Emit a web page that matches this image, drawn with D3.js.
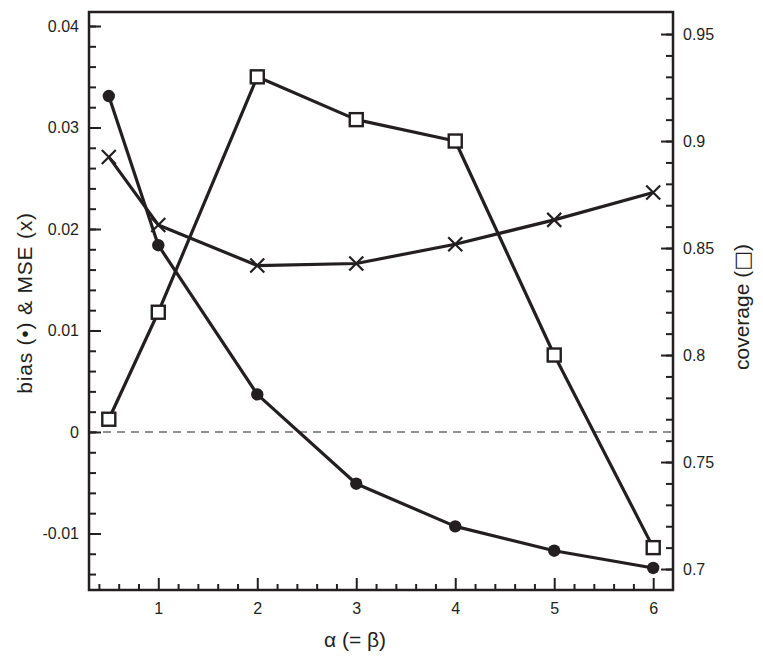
<!DOCTYPE html>
<html>
<head>
<meta charset="utf-8">
<script src="https://cdn.jsdelivr.net/npm/d3@7"></script>
<style>
  body { margin: 0; background: #fff; }
  svg text { font-family: "Liberation Sans", Arial, sans-serif; fill: #231f20; }
</style>
</head>
<body>
<div id="chart"></div>
<script>
// values
const alphas = [0.5, 1, 2, 3, 4, 5, 6];
const bias = [0.0331, 0.0184, 0.0037, -0.0051, -0.0093, -0.0117, -0.0134];
const mse = [0.0271, 0.0204, 0.0164, 0.0166, 0.0185, 0.0209, 0.0236];
const coverage = [0.77, 0.82, 0.93, 0.91, 0.9, 0.8, 0.71];

const xTicks = [1, 2, 3, 4, 5, 6];
const leftTicks = [-0.01, 0, 0.01, 0.02, 0.03, 0.04];
const leftLabels = ["-0.01", "0", "0.01", "0.02", "0.03", "0.04"];
const rightTicks = [0.7, 0.75, 0.8, 0.85, 0.9, 0.95];
const rightLabels = ["0.7", "0.75", "0.8", "0.85", "0.9", "0.95"];

// svg dimensions and plot box
const W = 763;
const H = 661;
const boxL = 89;
const boxR = 673;
const boxT = 12;
const boxB = 590;
const ink = "#231f20";

const svg = d3
  .select("#chart")
  .append("svg")
  .attr("width", W)
  .attr("height", H);

// scales
const x = d3.scaleLinear().domain([0.3, 6.2]).range([boxL, boxR]);
const yL = d3.scaleLinear().domain([-0.01557, 0.04138]).range([boxB, boxT]);
const yR = d3.scaleLinear().domain([0.6902, 0.9603]).range([boxB, boxT]);

// minor ticks (positions only)
const xMinor = d3.range(0.4, 6.01, 0.2).filter((v) => Math.abs(v - Math.round(v)) > 0.01);
const yLMinor = d3.range(-0.014, 0.0401, 0.002);
const yRMinor = d3.range(0.7, 0.951, 0.01);

function styleAxis(g) {
  g.select(".domain").remove();
  g.selectAll("line").attr("stroke", ink).attr("stroke-width", 2);
  g.selectAll("text")
    .style("font-size", "16px")
    .style("fill", ink);
}

// x axis (ticks inward)
svg
  .append("g")
  .attr("transform", `translate(0,${boxB})`)
  .call(d3.axisBottom(x).tickValues(xMinor).tickSize(-6).tickSizeOuter(0).tickFormat(""))
  .call(styleAxis);
svg
  .append("g")
  .attr("transform", `translate(0,${boxB})`)
  .call(d3.axisBottom(x).tickValues(xTicks).tickSize(-12).tickSizeOuter(0).tickPadding(13).tickFormat(d3.format("d")))
  .call(styleAxis);

// left axis
svg
  .append("g")
  .attr("transform", `translate(${boxL},0)`)
  .call(d3.axisLeft(yL).tickValues(yLMinor).tickSize(-7).tickSizeOuter(0).tickFormat(""))
  .call(styleAxis);
svg
  .append("g")
  .attr("transform", `translate(${boxL},0)`)
  .call(
    d3.axisLeft(yL).tickValues(leftTicks).tickSize(-12).tickSizeOuter(0).tickPadding(10)
      .tickFormat((d, i) => leftLabels[i])
  )
  .call(styleAxis);

// right axis
svg
  .append("g")
  .attr("transform", `translate(${boxR},0)`)
  .call(d3.axisRight(yR).tickValues(yRMinor).tickSize(-7).tickSizeOuter(0).tickFormat(""))
  .call(styleAxis);
svg
  .append("g")
  .attr("transform", `translate(${boxR},0)`)
  .call(
    d3.axisRight(yR).tickValues(rightTicks).tickSize(-12).tickSizeOuter(0).tickPadding(10)
      .tickFormat((d, i) => rightLabels[i])
  )
  .call(styleAxis);

// dashed zero line
svg
  .append("line")
  .attr("x1", boxL)
  .attr("x2", boxR)
  .attr("y1", yL(0))
  .attr("y2", yL(0))
  .attr("stroke", ink)
  .attr("stroke-width", 1.2)
  .attr("stroke-dasharray", "8,6");

// frame
svg
  .append("rect")
  .attr("x", boxL)
  .attr("y", boxT)
  .attr("width", boxR - boxL)
  .attr("height", boxB - boxT)
  .attr("fill", "none")
  .attr("stroke", ink)
  .attr("stroke-width", 2.5);

// series lines
const lineL = d3.line().x((d, i) => x(alphas[i])).y((d) => yL(d));
const lineR = d3.line().x((d, i) => x(alphas[i])).y((d) => yR(d));

[
  [mse, lineL],
  [bias, lineL],
  [coverage, lineR],
].forEach(([vals, fn]) => {
  svg
    .append("path")
    .attr("d", fn(vals))
    .attr("fill", "none")
    .attr("stroke", ink)
    .attr("stroke-width", 3.2)
    .attr("stroke-linejoin", "round");
});

// MSE markers (x)
const s = 7;
svg
  .selectAll(".mse")
  .data(mse)
  .enter()
  .append("path")
  .attr("class", "mse")
  .attr("d", (d, i) => {
    const cx = x(alphas[i]);
    const cy = yL(d);
    return `M${cx - s},${cy - s}L${cx + s},${cy + s}M${cx - s},${cy + s}L${cx + s},${cy - s}`;
  })
  .attr("stroke", ink)
  .attr("stroke-width", 2.2)
  .attr("fill", "none");

// bias markers (filled circles)
svg
  .selectAll(".bias")
  .data(bias)
  .enter()
  .append("circle")
  .attr("class", "bias")
  .attr("cx", (d, i) => x(alphas[i]))
  .attr("cy", (d) => yL(d))
  .attr("r", 6.2)
  .attr("fill", ink);

// coverage markers (open squares)
const q = 13;
svg
  .selectAll(".cov")
  .data(coverage)
  .enter()
  .append("rect")
  .attr("class", "cov")
  .attr("x", (d, i) => x(alphas[i]) - q / 2)
  .attr("y", (d) => yR(d) - q / 2)
  .attr("width", q)
  .attr("height", q)
  .attr("fill", "#fff")
  .attr("stroke", ink)
  .attr("stroke-width", 2.4);

// axis titles
svg
  .append("text")
  .attr("x", 355)
  .attr("y", 647)
  .attr("text-anchor", "middle")
  .style("font-size", "21px")
  .text("α (= β)");

svg
  .append("text")
  .attr("transform", `translate(32, 303)rotate(-90)`)
  .attr("text-anchor", "middle")
  .style("font-size", "21px")
  .style("letter-spacing", "0.8px")
  .text("bias (•) & MSE (x)");

const covTitle = svg
  .append("text")
  .attr("transform", `translate(749, 307)rotate(-90)`)
  .attr("text-anchor", "middle")
  .style("font-size", "21px");
covTitle.append("tspan").text("coverage (");
covTitle
  .append("tspan")
  .style("font-family", "'DejaVu Sans'")
  .style("fill", ink)
  .text("□");
covTitle.append("tspan").text(")");
</script>
</body>
</html>
